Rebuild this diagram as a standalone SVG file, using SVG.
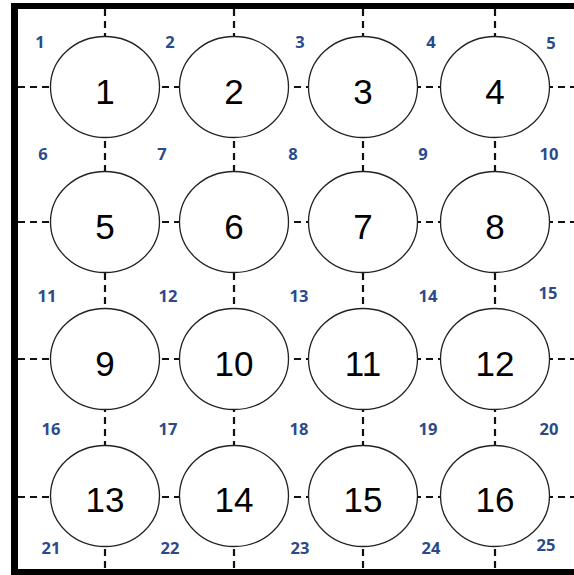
<svg xmlns="http://www.w3.org/2000/svg" width="574" height="575" viewBox="0 0 574 575">
<style>
.node ellipse{fill:#fff;stroke:#222;stroke-width:1.3}
.node text{font-family:"Liberation Sans",Arial,sans-serif;font-size:35px;fill:#000;text-anchor:middle}
.conn line{stroke:#111;stroke-width:2.2;stroke-dasharray:7 5}
.lbl text{font-family:"Open Sans","Liberation Sans",sans-serif;font-weight:bold;font-size:16.5px;fill:#2b4a8a;text-anchor:middle}
</style>
<rect x="0" y="0" width="574" height="575" fill="#fff"/>
<g id="frame" fill="#000">
<rect x="11" y="3" width="563" height="6"/>
<rect x="11" y="3" width="7" height="572"/>
<rect x="11" y="569" width="563" height="6"/>
</g>
<g id="connectors" class="conn">
<line x1="105" y1="9" x2="105" y2="569"/>
<line x1="234" y1="9" x2="234" y2="569"/>
<line x1="363" y1="9" x2="363" y2="569"/>
<line x1="495" y1="9" x2="495" y2="569"/>
<line x1="18" y1="87" x2="574" y2="87"/>
<line x1="18" y1="222" x2="574" y2="222"/>
<line x1="18" y1="359" x2="574" y2="359"/>
<line x1="18" y1="497" x2="574" y2="497"/>
</g>
<g id="n1" class="node"><ellipse cx="105" cy="87" rx="54.5" ry="50.5"/><text x="105" y="104">1</text></g>
<g id="n2" class="node"><ellipse cx="234" cy="87" rx="54.5" ry="50.5"/><text x="234" y="104">2</text></g>
<g id="n3" class="node"><ellipse cx="363" cy="87" rx="54.5" ry="50.5"/><text x="363" y="104">3</text></g>
<g id="n4" class="node"><ellipse cx="495" cy="87" rx="54.5" ry="50.5"/><text x="495" y="104">4</text></g>
<g id="n5" class="node"><ellipse cx="105" cy="222" rx="54.5" ry="50.5"/><text x="105" y="239">5</text></g>
<g id="n6" class="node"><ellipse cx="234" cy="222" rx="54.5" ry="50.5"/><text x="234" y="239">6</text></g>
<g id="n7" class="node"><ellipse cx="363" cy="222" rx="54.5" ry="50.5"/><text x="363" y="239">7</text></g>
<g id="n8" class="node"><ellipse cx="495" cy="222" rx="54.5" ry="50.5"/><text x="495" y="239">8</text></g>
<g id="n9" class="node"><ellipse cx="105" cy="359" rx="54.5" ry="50.5"/><text x="105" y="376">9</text></g>
<g id="n10" class="node"><ellipse cx="234" cy="359" rx="54.5" ry="50.5"/><text x="234" y="376">10</text></g>
<g id="n11" class="node"><ellipse cx="363" cy="359" rx="54.5" ry="50.5"/><text x="363" y="376">11</text></g>
<g id="n12" class="node"><ellipse cx="495" cy="359" rx="54.5" ry="50.5"/><text x="495" y="376">12</text></g>
<g id="n13" class="node"><ellipse cx="105" cy="496" rx="54.5" ry="50.5"/><text x="105" y="512">13</text></g>
<g id="n14" class="node"><ellipse cx="234" cy="496" rx="54.5" ry="50.5"/><text x="234" y="512">14</text></g>
<g id="n15" class="node"><ellipse cx="363" cy="496" rx="54.5" ry="50.5"/><text x="363" y="512">15</text></g>
<g id="n16" class="node"><ellipse cx="495" cy="496" rx="54.5" ry="50.5"/><text x="495" y="512">16</text></g>
<g id="labels" class="lbl">
<text x="40" y="48">1</text><text x="170" y="48">2</text><text x="300" y="48">3</text><text x="431" y="48">4</text><text x="551" y="49">5</text>
<text x="43" y="160">6</text><text x="162" y="160">7</text><text x="293" y="160">8</text><text x="423" y="160">9</text><text x="549" y="160">10</text>
<text x="47" y="302">11</text><text x="168" y="302">12</text><text x="299" y="302">13</text><text x="428" y="302">14</text><text x="548" y="299">15</text>
<text x="51" y="435">16</text><text x="168" y="435">17</text><text x="299" y="435">18</text><text x="428" y="435">19</text><text x="549" y="435">20</text>
<text x="51" y="554">21</text><text x="170" y="554">22</text><text x="300" y="554">23</text><text x="431" y="554">24</text><text x="546" y="551">25</text>
</g>
</svg>
